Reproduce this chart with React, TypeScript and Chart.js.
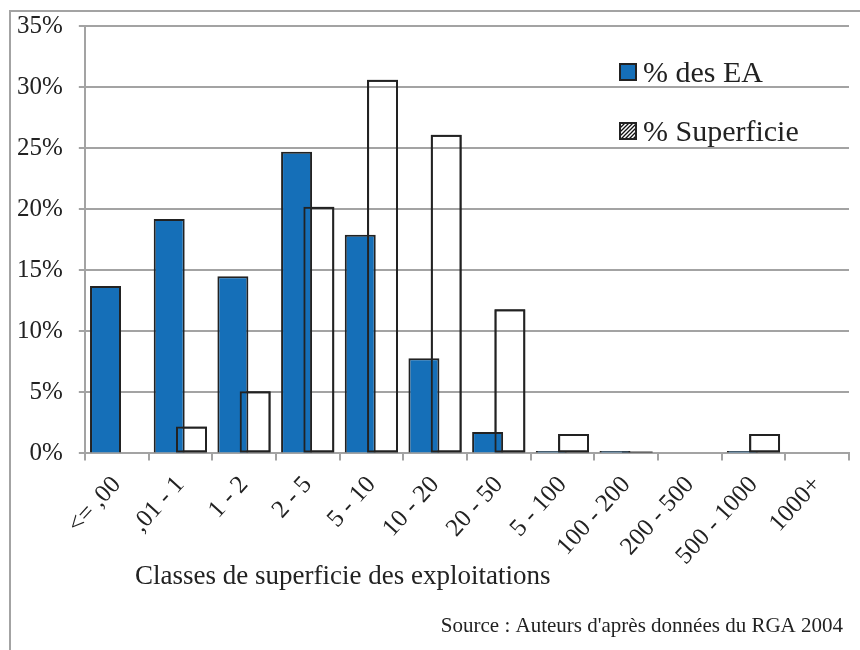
import React, { useEffect, useRef } from "react";
import { Chart, registerables } from "chart.js";

Chart.register(...registerables);

const categories = [
  "<= ,00",
  ",01 - 1",
  "1 - 2",
  "2 - 5",
  "5 - 10",
  "10 - 20",
  "20 - 50",
  "5 - 100",
  "100 - 200",
  "200 - 500",
  "500 - 1000",
  "1000+",
];
const eaShare: (number | null)[] = [13.7, 19.2, 14.5, 24.7, 17.9, 7.8, 1.75, 0.2, 0.2, null, 0.2, null];
const areaShare: (number | null)[] = [null, 2.2, 5.1, 20.2, 30.6, 26.1, 11.8, 1.6, 0.02, null, 1.6, null];
const seriesNames = ["% des EA", "% Superficie"];
const yMin = 0;
const yMax = 35;
const yStep = 5;
const xTitle = "Classes de superficie des exploitations";
const sourceText = "Source : Auteurs d'après données du RGA 2004";

const SERIF = "'Liberation Serif', 'Times New Roman', Times, serif";
const BLUE = "#156fb8";
const INK = "#222222";
const GRID = "#a3a3a3";

function makeHatch(ctx: CanvasRenderingContext2D) {
  const c = document.createElement("canvas");
  c.width = 4;
  c.height = 4;
  const g = c.getContext("2d")!;
  g.fillStyle = "#ffffff";
  g.fillRect(0, 0, 4, 4);
  g.strokeStyle = "#111111";
  g.lineWidth = 1.3;
  g.beginPath();
  g.moveTo(0, 4);
  g.lineTo(4, 0);
  g.moveTo(-1, 1);
  g.lineTo(1, -1);
  g.moveTo(3, 5);
  g.lineTo(5, 3);
  g.stroke();
  return ctx.createPattern(c, "repeat");
}

// Redraw the outlined (transparent) series on top so its edges show over the blue bars.
const outlineOnTopPlugin = {
  id: "outlineOnTop",
  afterDatasetsDraw(chart: any) {
    const meta = chart.getDatasetMeta(1);
    if (!meta || meta.hidden) return;
    const ctx: CanvasRenderingContext2D = chart.ctx;
    const a = chart.chartArea;
    ctx.save();
    ctx.beginPath();
    ctx.rect(a.left, a.top - 2, a.right - a.left, a.bottom - a.top + 6);
    ctx.clip();
    meta.controller.draw();
    ctx.restore();
  },
};

const overlayPlugin = {
  id: "overlay",
  afterDraw(chart: any) {
    const ctx: CanvasRenderingContext2D = chart.ctx;
    ctx.save();
    const lx = 619;
    const items = [
      { y: 63, name: seriesNames[0], fill: BLUE as any },
      { y: 122, name: seriesNames[1], fill: makeHatch(ctx) as any },
    ];
    for (const it of items) {
      ctx.fillStyle = it.fill;
      ctx.fillRect(lx, it.y, 18, 18);
      ctx.strokeStyle = INK;
      ctx.lineWidth = 2;
      ctx.strokeRect(lx + 1, it.y + 1, 16, 16);
      ctx.fillStyle = INK;
      ctx.font = `30px ${SERIF}`;
      ctx.textAlign = "left";
      ctx.textBaseline = "alphabetic";
      ctx.fillText(it.name, 643, it.y + 19);
    }
    ctx.font = `27px ${SERIF}`;
    ctx.textAlign = "left";
    ctx.fillText(xTitle, 135, 584);
    ctx.font = `21px ${SERIF}`;
    ctx.textAlign = "right";
    ctx.fillText(sourceText, 843, 632);
    ctx.restore();
  },
};

export default function App() {
  const ref = useRef<HTMLCanvasElement | null>(null);

  useEffect(() => {
    if (!ref.current) return;
    const common = {
      categoryPercentage: 0.7,
      barPercentage: 1.39,
      borderColor: INK,
      borderWidth: 2,
    };
    const chart = new Chart(ref.current, {
      type: "bar",
      data: {
        labels: categories,
        datasets: [
          { ...common, label: seriesNames[0], data: eaShare, backgroundColor: BLUE },
          {
            ...common,
            label: seriesNames[1],
            data: areaShare,
            backgroundColor: "rgba(0,0,0,0)",
            borderSkipped: false,
            minBarLength: 2,
          },
        ] as any,
      },
      options: {
        responsive: false,
        animation: false,
        layout: { padding: { left: 1, right: 11, top: 0, bottom: 69 } },
        plugins: { legend: { display: false }, tooltip: { enabled: false } },
        scales: {
          x: {
            type: "category",
            offset: true,
            grid: {
              offset: true,
              drawOnChartArea: false,
              drawTicks: true,
              tickLength: 7,
              color: GRID,
              lineWidth: 2,
            },
            border: { display: true, color: GRID, width: 2 },
            ticks: {
              autoSkip: false,
              minRotation: 48,
              maxRotation: 48,
              color: INK,
              padding: 10,
              font: { family: SERIF, size: 25 },
            },
          },
          y: {
            min: yMin,
            max: yMax,
            grid: { color: GRID, lineWidth: 2, tickLength: 6, drawTicks: true },
            border: { display: true, color: GRID, width: 2 },
            ticks: {
              stepSize: yStep,
              color: INK,
              padding: 16,
              font: { family: SERIF, size: 25, lineHeight: 0.8 },
              callback: (v: any) => `${v}%`,
            },
          },
        },
      },
      plugins: [outlineOnTopPlugin, overlayPlugin],
    });
    return () => chart.destroy();
  }, []);

  return (
    <div style={{ position: "fixed", left: 0, top: 0, width: 860, height: 650, overflow: "hidden", background: "#fff" }}>
      <div
        style={{
          position: "absolute",
          left: 9,
          top: 10,
          width: 900,
          height: 700,
          borderTop: `2px solid ${GRID}`,
          borderLeft: `2px solid ${GRID}`,
        }}
      />
      <canvas ref={ref} width={860} height={650} style={{ position: "absolute", left: 0, top: 0, width: 860, height: 650 }} />
    </div>
  );
}
